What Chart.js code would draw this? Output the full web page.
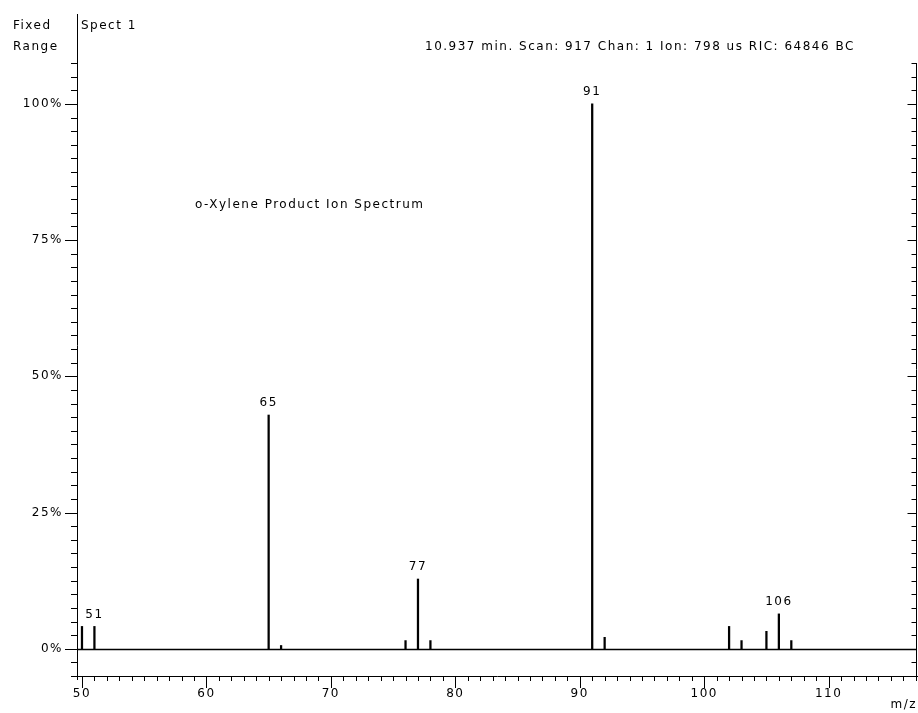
<!DOCTYPE html>
<html>
<head>
<meta charset="utf-8">
<script src="https://cdn.jsdelivr.net/npm/chart.js@4"></script>
<style>
  html, body { margin: 0; padding: 0; background: #fff; }
  #wrap { width: 918px; height: 713px; position: relative; }
</style>
</head>
<body>
<div id="wrap"><canvas id="spec"></canvas></div>
<script>
// peaks (m/z, relative abundance %)
const masses = [50, 51, 65, 66, 76, 77, 78, 91, 92, 102, 103, 105, 106, 107];
const abundances = [4.1, 4.1, 42.9, 0.6, 1.5, 12.8, 1.5, 100, 2.1, 4.1, 1.5, 3.2, 6.4, 1.5];
const labeledPeaks = [51, 65, 77, 91, 106];

const headerLeft = ['Fixed', 'Range'];
const spectName = 'Spect 1';
const scanInfo = '10.937 min. Scan: 917 Chan: 1 Ion: 798 us RIC: 64846 BC';
const plotTitle = 'o-Xylene Product Ion Spectrum';
const xAxisName = 'm/z';

const FONT = '12px "DejaVu Sans"';
const SPACING = '1.5px';

Chart.defaults.font.family = 'DejaVu Sans';
Chart.defaults.font.size = 12;
Chart.defaults.color = '#000';

const spectrumDecor = {
  id: 'spectrumDecor',
  beforeDraw(chart) {
    chart.ctx.letterSpacing = SPACING;
  },
  afterDraw(chart) {
    const ctx = chart.ctx;
    const x = chart.scales.x, y = chart.scales.y;
    const area = chart.chartArea;
    ctx.save();
    ctx.strokeStyle = '#000';
    ctx.fillStyle = '#000';
    ctx.lineWidth = 1;

    // left and right ticks every 2.5 %
    const rightX = area.right - 0.5;
    ctx.beginPath();
    ctx.moveTo(rightX, Math.round(y.getPixelForValue(107.5)));
    ctx.lineTo(rightX, area.bottom);
    for (let v = -5; v <= 107.5; v += 2.5) {
      const py = Math.round(y.getPixelForValue(v)) + 0.5;
      const major = v % 25 === 0;
      ctx.moveTo(area.left - (major ? 12 : 6), py);
      ctx.lineTo(area.left, py);
      ctx.moveTo(rightX - (major ? 9 : 5), py);
      ctx.lineTo(rightX, py);
    }
    // bottom ticks every 1 m/z
    for (let m = 50; m <= x.max; m += 1) {
      const px = Math.round(x.getPixelForValue(m)) + 0.5;
      ctx.moveTo(px, area.bottom);
      ctx.lineTo(px, area.bottom + (m % 10 === 0 ? 12 : 5));
    }
    ctx.moveTo(area.left + 0.5, area.bottom);
    ctx.lineTo(area.left + 0.5, area.bottom + 4);
    ctx.stroke();

    // zero line
    const y0 = Math.round(y.getPixelForValue(0)) + 0.5;
    ctx.lineWidth = 1.6;
    ctx.beginPath();
    ctx.moveTo(area.left, y0);
    ctx.lineTo(area.right, y0);
    ctx.stroke();

    // texts
    ctx.font = FONT;
    ctx.letterSpacing = SPACING;
    ctx.textBaseline = 'middle';
    ctx.textAlign = 'left';
    ctx.fillText(headerLeft[0], 13, 26);
    ctx.fillText(headerLeft[1], 13, 47);
    ctx.fillText(spectName, 81, 26);
    ctx.fillText(scanInfo, 425, 47);
    ctx.fillText(plotTitle, 195, 205);
    ctx.textAlign = 'right';
    ctx.fillText(xAxisName, 917, 705);

    // peak labels
    ctx.textAlign = 'center';
    labeledPeaks.forEach(m => {
      const i = masses.indexOf(m);
      const px = x.getPixelForValue(m);
      const py = y.getPixelForValue(abundances[i]);
      ctx.fillText(String(m), px, py - 12);
    });
    ctx.restore();
  }
};

new Chart(document.getElementById('spec'), {
  type: 'bar',
  data: {
    datasets: [{
      data: masses.map((m, i) => ({ x: m, y: abundances[i] })),
      backgroundColor: '#000',
      borderWidth: 0,
      barThickness: 1.6
    }]
  },
  options: {
    responsive: true,
    maintainAspectRatio: false,
    animation: false,
    layout: { padding: { top: 14, right: 1, left: 0, bottom: 0 } },
    plugins: { legend: { display: false }, tooltip: { enabled: false } },
    scales: {
      x: {
        type: 'linear',
        min: 49.6,
        max: 117.1,
        offset: false,
        grid: { display: false, drawTicks: false },
        border: { display: true, color: '#000', width: 1 },
        ticks: { stepSize: 10, includeBounds: false, padding: 11, maxRotation: 0, autoSkip: false },
        afterFit(scale) {
          scale.height = 37;
          scale.paddingLeft = 0;
          scale.paddingRight = 0;
        }
      },
      y: {
        min: -5,
        max: 116.5,
        grid: { display: false, drawTicks: false },
        border: { display: true, color: '#000', width: 1 },
        ticks: {
          stepSize: 25,
          includeBounds: false,
          padding: 14,
          callback: v => v + '%'
        },
        afterFit(scale) {
          scale.width = 77;
          scale.paddingTop = 0;
          scale.paddingBottom = 0;
        }
      }
    }
  },
  plugins: [spectrumDecor]
});
</script>
</body>
</html>
